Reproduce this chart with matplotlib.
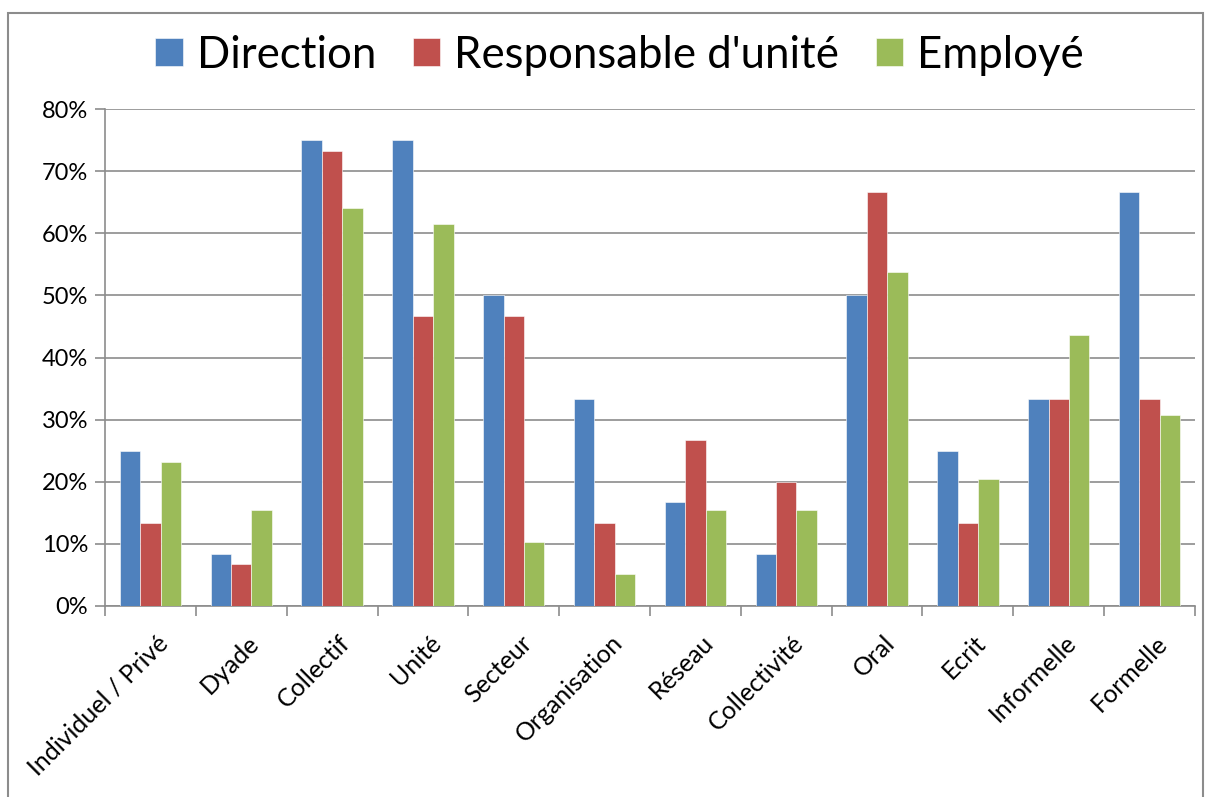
import matplotlib.pyplot as plt
import numpy as np
from matplotlib.patches import Rectangle
from matplotlib.ticker import PercentFormatter, FixedLocator
from matplotlib.transforms import ScaledTranslation

categories = ['Individuel / Privé', 'Dyade', 'Collectif', 'Unité', 'Secteur',
              'Organisation', 'Réseau', 'Collectivité', 'Oral', 'Ecrit',
              'Informelle', 'Formelle']
direction = [25.0, 8.3, 75.0, 75.0, 50.0, 33.3, 16.7, 8.3, 50.0, 25.0, 33.3, 66.7]
responsable = [13.3, 6.7, 73.3, 46.7, 46.7, 13.3, 26.7, 20.0, 66.7, 13.3, 33.3, 33.3]
employe = [23.1, 15.4, 64.1, 61.5, 10.3, 5.1, 15.4, 15.4, 53.8, 20.5, 43.6, 30.8]
series_names = ['Direction', "Responsable d'unité", 'Employé']
colors = ['#4F81BD', '#C0504D', '#9BBB59']

plt.rcParams['font.family'] = ['Lato', 'DejaVu Sans']

fig = plt.figure(figsize=(12.08, 7.97), dpi=100)
# outer chart frame
fig.patches.append(Rectangle((8 / 1208, -0.01), 1195 / 1208, 1 - 13 / 797 + 0.01,
                             transform=fig.transFigure, fill=False,
                             edgecolor='#8c8c8c', linewidth=1.5))

ax = fig.add_axes([105 / 1208, 1 - 606 / 797, (1195 - 105) / 1208, (606 - 109) / 797])

x = np.arange(len(categories))
w = 0.225
for i, (vals, name, c) in enumerate(zip([direction, responsable, employe], series_names, colors)):
    ax.bar(x + (i - 1) * w, vals, w, color=c, label=name, edgecolor='white', linewidth=0.4, zorder=3)

ax.set_xlim(-0.5, len(categories) - 0.5)
ax.set_ylim(0, 80)
ax.yaxis.set_major_locator(FixedLocator(np.arange(0, 81, 10)))
ax.yaxis.set_major_formatter(PercentFormatter(decimals=0))
ax.grid(axis='y', color='#8c8c8c', linewidth=1.2, zorder=0)
for s in ['top', 'right']:
    ax.spines[s].set_visible(False)
for s in ['left', 'bottom']:
    ax.spines[s].set_color('#8c8c8c')
    ax.spines[s].set_linewidth(1.2)

ax.set_xticks(np.arange(-0.5, len(categories), 1.0))
ax.set_xticklabels([])
ax.set_xticks(x, minor=True)
ax.set_xticklabels(categories, minor=True, rotation=45, ha='right',
                   rotation_mode='anchor', fontsize=18)
ax.tick_params(axis='x', which='minor', length=0, pad=18)
ax.tick_params(axis='x', which='major', length=7, color='#8c8c8c', width=1.2)
ax.tick_params(axis='y', length=7, color='#8c8c8c', width=1.2, labelsize=17, pad=5)
for lbl in ax.get_xticklabels(minor=True):
    lbl.set_transform(lbl.get_transform() + ScaledTranslation(0.06, 0, fig.dpi_scale_trans))

fig.legend(loc='center', bbox_to_anchor=(0.513, 1 - 55 / 797), ncol=3, frameon=False,
           fontsize=31.5, handlelength=0.62, handleheight=0.62, handletextpad=0.32,
           columnspacing=0.85)

fig.savefig('out.png', dpi=100)
